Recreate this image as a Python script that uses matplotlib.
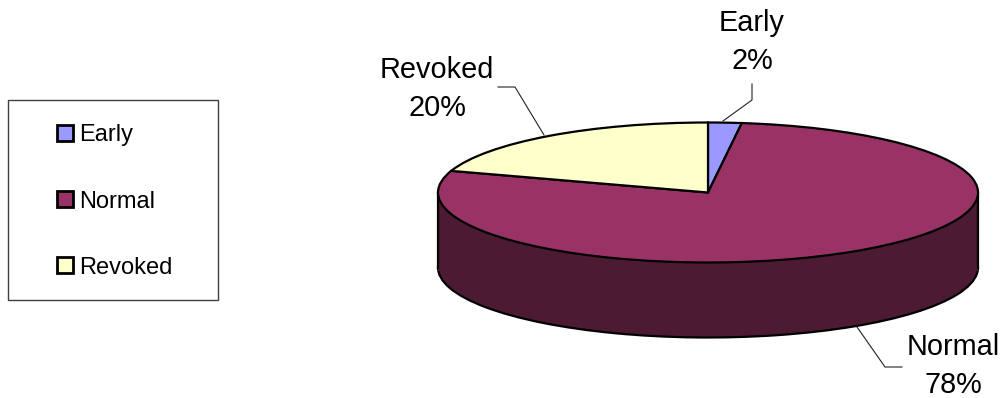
#!/usr/bin/env python3
"""
3D looking pie chart of Early / Normal / Revoked shares
"""
import matplotlib
matplotlib.use('Agg')
import matplotlib.pyplot as plt
from matplotlib.patches import Rectangle

plt.rcParams['font.family'] = ['Liberation Sans', 'DejaVu Sans']

# Data
categories = ['Early', 'Normal', 'Revoked']
shares = [2, 78, 20]
top_colors = ['#9999FF', '#993366', '#FFFFCC']
side_color = '#4D1A33'

# Layout in pixels
W, H = 1005, 398
CX, CY = 708, 192.5
RX, RY = 270, 70
DEPTH = 75
EDGE = 1.6


def pie_axes(cy):
    # axes around one ellipse, pie() keeps its limits at +-1.25
    w = 2 * RX * 1.25
    h = 2 * RY * 1.25
    ax = fig.add_axes([(CX - w / 2) / W, 1 - (cy + h / 2) / H, w / W, h / H])
    return ax


fig = plt.figure(figsize=(W / 100, H / 100), dpi=100, facecolor='white')

# Bottom of the cylinder
ax_low = pie_axes(CY + DEPTH)
ax_low.pie(shares, colors=[side_color], startangle=90, counterclock=False,
           wedgeprops=dict(edgecolor='black', linewidth=EDGE))
ax_low.set_aspect('auto')

# Overlay in pixel coordinates: wall, frame, leader lines
ax_px = fig.add_axes([0, 0, 1, 1])
ax_px.set_xlim(0, W)
ax_px.set_ylim(H, 0)
ax_px.axis('off')
ax_px.patch.set_alpha(0)
# wall runs a little past the lower centre to hide the wedge joint there
ax_px.add_patch(Rectangle((CX - RX, CY), 2 * RX, DEPTH + 3, facecolor=side_color, edgecolor='none'))
ax_px.plot([CX - RX, CX - RX], [CY, CY + DEPTH], color='black', lw=EDGE)
ax_px.plot([CX + RX, CX + RX], [CY, CY + DEPTH], color='black', lw=EDGE)
ax_px.add_patch(Rectangle((8, 100), 210, 200, facecolor='white', edgecolor='#404040', lw=1.0))

# Top face
ax_top = pie_axes(CY)
wedges, _ = ax_top.pie(shares, colors=top_colors, startangle=90, counterclock=False,
                       wedgeprops=dict(edgecolor='black', linewidth=EDGE))
ax_top.set_aspect('auto')

# Labels and leaders on top of everything
ax_txt = fig.add_axes([0, 0, 1, 1])
ax_txt.set_xlim(0, W)
ax_txt.set_ylim(H, 0)
ax_txt.axis('off')
ax_txt.patch.set_alpha(0)

label_pos = [(752, 42), (953, 366), (437, 89)]
leaders = [
    ([752, 752, 723], [84, 100, 121]),
    ([902, 885, 857], [367, 367, 327]),
    ([498, 515, 544], [87, 87, 135]),
]
for name, val, (x, y), (lx, ly) in zip(categories, shares, label_pos, leaders):
    ax_txt.text(x, y, f'{name}\n{val}%', ha='center', va='center',
                fontsize=20.8, linespacing=1.47, color='black')
    ax_txt.plot(lx, ly, color='#222222', lw=0.8)

# Legend, frame is drawn separately so it can be sized freely
leg = fig.legend(wedges, categories, loc='center left',
                 bbox_to_anchor=(57 / W, 1 - 201.5 / H), frameon=False,
                 fontsize=17, handlelength=0.68, handleheight=0.68,
                 handletextpad=0.25, labelspacing=1.87, borderpad=0, borderaxespad=0)
for h in leg.legend_handles:
    h.set_linewidth(2.0)

fig.savefig('out.png', dpi=100, facecolor='white')
